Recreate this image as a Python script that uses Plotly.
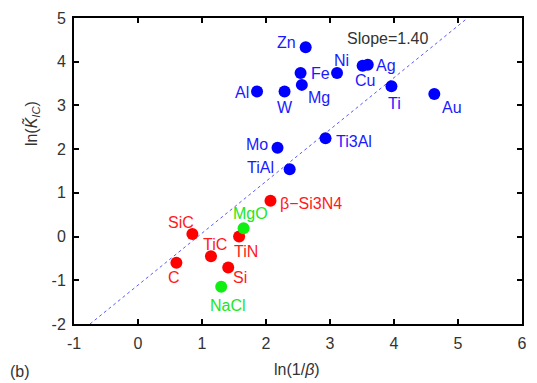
import plotly.graph_objects as go

# ---- data ----
metal_names = ["Zn", "Fe", "Mg", "Ni", "Cu", "Ag", "Ti", "Au", "W", "Al", "Mo", "TiAl", "Ti3Al"]
metal_x = [2.62, 2.54, 2.56, 3.11, 3.51, 3.59, 3.96, 4.63, 2.29, 1.86, 2.18, 2.37, 2.93]
metal_y = [4.33, 3.74, 3.47, 3.74, 3.91, 3.93, 3.44, 3.26, 3.32, 3.32, 2.03, 1.54, 2.25]

ceramic_names = ["β−Si3N4", "SiC", "TiN", "TiC", "C", "Si"]
ceramic_x = [2.07, 0.85, 1.58, 1.14, 0.60, 1.41]
ceramic_y = [0.82, 0.06, 0.00, -0.45, -0.60, -0.71]

ionic_names = ["MgO", "NaCl"]
ionic_x = [1.65, 1.30]
ionic_y = [0.19, -1.15]

fit_x = [-0.75, 5.15]
fit_y = [-2.0, 5.0]
slope_label = "Slope=1.40"

x_ticks = [-1, 0, 1, 2, 3, 4, 5, 6]
y_ticks = [-2, -1, 0, 1, 2, 3, 4, 5]

# ---- label placement (style): anchor, dx, dy (px, dy positive downward) ----
label_pos = {
    "Zn": ("center", -19, -5), "Fe": ("left", 8, 0), "Mg": ("left", 4, 13),
    "Ni": ("center", 4, -13), "Cu": ("center", 2, 15), "Ag": ("left", 6, 1),
    "Ti": ("center", 3, 17), "Au": ("center", 18, 13), "W": ("center", 0, 16),
    "Al": ("right", -6, 1), "Mo": ("right", -8, -3), "TiAl": ("right", -14, -2),
    "Ti3Al": ("left", 8, 3), "β−Si3N4": ("left", 8, 3), "SiC": ("center", -11, -11),
    "TiC": ("center", 4, -12), "TiN": ("center", 7, 15), "C": ("center", -2, 15),
    "Si": ("center", 12, 10), "MgO": ("center", 7, -15), "NaCl": ("center", 7, 19),
}

BLUE, BLUE_T = "#0000ff", "#1a1aff"
RED, RED_T = "#ff0000", "#ff1a1a"
GREEN, GREEN_T = "#11ee11", "#22e622"
FONT = "Liberation Sans, Arial, sans-serif"
GRAY = "#333333"

fig = go.Figure()
fig.add_trace(go.Scatter(x=fit_x, y=fit_y, mode="lines",
                         line=dict(color="#5a5aff", width=1, dash="dot"),
                         hoverinfo="skip", showlegend=False))

annotations = []
for names, xs, ys, col, tcol in [(metal_names, metal_x, metal_y, BLUE, BLUE_T),
                                 (ceramic_names, ceramic_x, ceramic_y, RED, RED_T),
                                 (ionic_names, ionic_x, ionic_y, GREEN, GREEN_T)]:
    fig.add_trace(go.Scatter(x=xs, y=ys, mode="markers",
                             marker=dict(color=col, size=12, line=dict(width=0)),
                             showlegend=False, cliponaxis=False))
    for n, xv, yv in zip(names, xs, ys):
        anc, dx, dy = label_pos[n]
        annotations.append(dict(x=xv, y=yv, xref="x", yref="y", text=n,
                                showarrow=False, xanchor=anc, yanchor="middle",
                                xshift=dx, yshift=-dy,
                                font=dict(color=tcol, size=16, family=FONT)))

annotations.append(dict(x=3.90, y=4.54, xref="x", yref="y", text=slope_label,
                        showarrow=False, xanchor="center", yanchor="middle",
                        font=dict(color=GRAY, size=16, family=FONT)))

pw, ph = 537 - 74 - 10, 383 - 14 - 59
annotations.append(dict(x=(19 - 74) / pw, y=(324 - 372) / ph, xref="paper", yref="paper",
                        text="(b)", showarrow=False, xanchor="center", yanchor="middle",
                        font=dict(color=GRAY, size=16, family=FONT)))
annotations.append(dict(x=(31 - 74) / pw, y=(324 - 121) / ph, xref="paper", yref="paper",
                        text="ln(<i>K̃</i><sub><i>IC</i></sub>)", textangle=-90,
                        showarrow=False, xanchor="center", yanchor="middle",
                        font=dict(color=GRAY, size=16, family=FONT)))
annotations.append(dict(x=(299 - 74) / pw, y=(324 - 370) / ph, xref="paper", yref="paper",
                        text="ln(1/<i>β</i>)", showarrow=False,
                        xanchor="center", yanchor="middle",
                        font=dict(color=GRAY, size=16, family=FONT)))

fig.update_layout(
    width=537, height=383,
    margin=dict(l=74, r=10, t=14, b=59),
    paper_bgcolor="white", plot_bgcolor="white",
    font=dict(family=FONT, size=15, color=GRAY),
    showlegend=False,
    annotations=annotations,
)

axis_common = dict(showline=True, linecolor="black", linewidth=2, mirror="allticks",
                   ticks="inside", ticklen=5, tickwidth=2, tickcolor="black",
                   showgrid=False, zeroline=False,
                   tickfont=dict(size=16, color=GRAY, family=FONT))
fig.update_xaxes(range=[-1, 6], tickvals=x_ticks, ticktext=[str(v) for v in x_ticks],
                 ticklabelstandoff=4, **axis_common)
fig.update_yaxes(range=[-2, 5], tickvals=y_ticks, ticktext=[str(v) for v in y_ticks],
                 ticklabelstandoff=3, **axis_common)

fig.write_html("out.html")
